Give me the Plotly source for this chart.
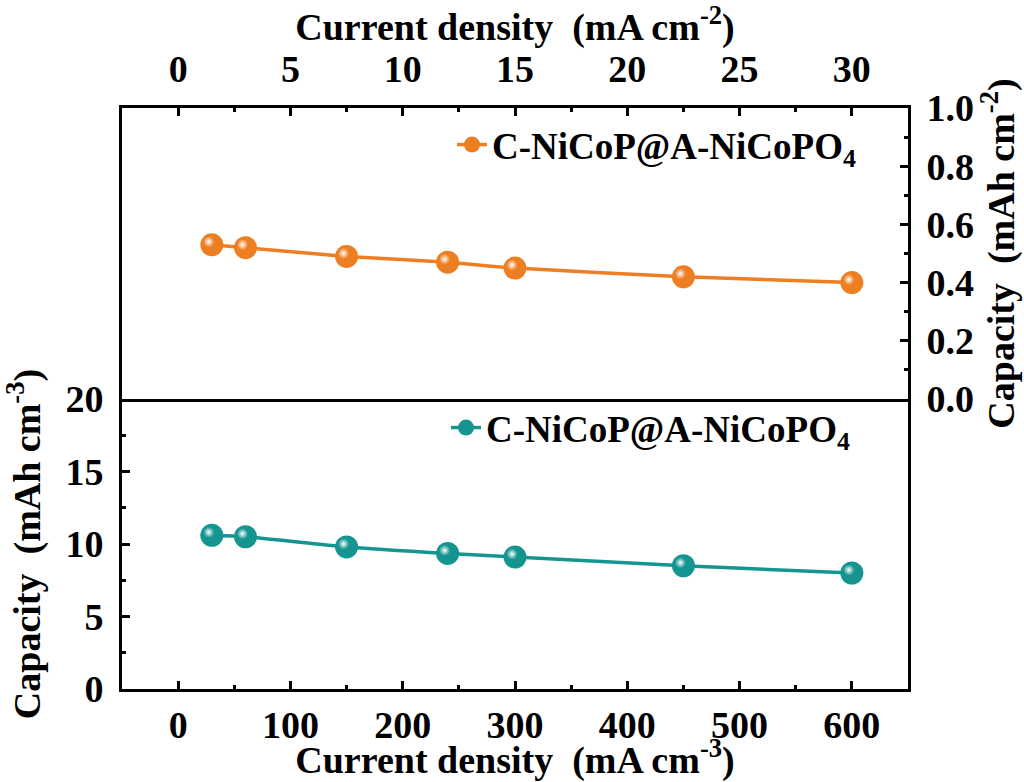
import plotly.graph_objects as go

# Areal (top panel) and volumetric (bottom panel) rate performance
areal_current = [1.5, 3, 7.5, 12, 15, 22.5, 30]            # mA cm-2
areal_capacity = [0.53, 0.52, 0.49, 0.47, 0.45, 0.42, 0.40]  # mAh cm-2

vol_current = [30, 60, 150, 240, 300, 450, 600]              # mA cm-3
vol_capacity = [10.6, 10.5, 9.8, 9.35, 9.1, 8.5, 8.0]        # mAh cm-3

series_name = "<b>C-NiCoP@A-NiCoPO<sub>4</sub></b>"
orange = "#EE7E22"
teal = "#15958F"

FONT = "Liberation Serif"
GAP = "\u2002"  # en space before the unit parentheses
W, H = 1024, 782
# plot frame in pixels
left, right, top, mid, bottom = 122, 908, 108, 399, 689

def px_x(p):
    return p / W

def px_y(p):
    return (H - p) / H

x_dom = [px_x(left), px_x(right)]
y_bot = [px_y(bottom), px_y(mid)]
y_top = [px_y(mid), px_y(top)]
# small offset (up-left) used for the specular highlight on the ball markers
dx, dy = 3 / W, 3 / H
x_dom_hi = [x_dom[0] - dx, x_dom[1] - dx]
y_bot_hi = [y_bot[0] + dy, y_bot[1] + dy]
y_top_hi = [y_top[0] + dy, y_top[1] + dy]

fig = go.Figure()

# top panel: areal capacity
fig.add_trace(go.Scatter(
    x=areal_current, y=areal_capacity, xaxis="x2", yaxis="y2",
    mode="lines+markers", name=series_name, legend="legend",
    line=dict(color=orange, width=3.5, shape="spline", smoothing=0.6),
    marker=dict(size=23, color=orange, line=dict(width=0)),
))
fig.add_trace(go.Scatter(
    x=areal_current, y=areal_capacity, xaxis="x3", yaxis="y3",
    mode="markers", showlegend=False, hoverinfo="skip",
    marker=dict(size=11, color=orange, line=dict(width=0),
                gradient=dict(type="radial", color="white")),
))

# bottom panel: volumetric capacity
fig.add_trace(go.Scatter(
    x=vol_current, y=vol_capacity, xaxis="x", yaxis="y",
    mode="lines+markers", name=series_name, legend="legend2",
    line=dict(color=teal, width=3.5, shape="spline", smoothing=0.6),
    marker=dict(size=23, color=teal, line=dict(width=0)),
))
fig.add_trace(go.Scatter(
    x=vol_current, y=vol_capacity, xaxis="x4", yaxis="y4",
    mode="markers", showlegend=False, hoverinfo="skip",
    marker=dict(size=11, color=teal, line=dict(width=0),
                gradient=dict(type="radial", color="white")),
))

tick_font = dict(family=FONT, size=38, color="black")
title_font = dict(family=FONT, size=38, color="black")
axis_common = dict(
    showline=True, linecolor="black", linewidth=3,
    ticks="inside", ticklen=8, tickwidth=3, tickcolor="black",
    showgrid=False, zeroline=False, tickfont=tick_font,
    tickprefix="<b>", ticksuffix="</b>",
    automargin=False,
)
minor_common = dict(ticks="inside", ticklen=4, tickwidth=3, tickcolor="black")
hidden = dict(visible=False, showgrid=False, zeroline=False, fixedrange=True)

fig.update_layout(
    template="none",
    font=dict(family=FONT, size=36, color="black"),
    width=W, height=H,
    margin=dict(l=0, r=0, t=0, b=0),
    paper_bgcolor="white", plot_bgcolor="rgba(0,0,0,0)",
    xaxis=dict(
        **axis_common, domain=x_dom, anchor="y", range=[-50, 650],
        tick0=0, dtick=100, mirror=False, ticklabelstandoff=0,
        minor=dict(**minor_common, dtick=50, tick0=0),
        title=dict(text=f"<b>Current density{GAP}(mA cm<sup>-3</sup>)</b>", font=title_font, standoff=3),
    ),
    yaxis=dict(
        **axis_common, domain=y_bot, anchor="x", range=[0, 20],
        tick0=0, dtick=5, mirror=True, ticklabelstandoff=8,
        minor=dict(**minor_common, dtick=2.5, tick0=0),
        title=dict(text=f"<b>Capacity{GAP}(mAh cm<sup>-3</sup>)</b>", font=title_font, standoff=14),
    ),
    xaxis2=dict(
        **axis_common, domain=x_dom, anchor="y2", side="top", range=[-2.5, 32.5],
        tick0=0, dtick=5, mirror=True, ticklabelstandoff=8,
        minor=dict(**minor_common, dtick=2.5, tick0=0),
        title=dict(text=f"<b>Current density{GAP}(mA cm<sup>-2</sup>)</b>", font=title_font, standoff=4),
    ),
    yaxis2=dict(
        **axis_common, domain=y_top, anchor="x2", side="right", range=[0, 1.0],
        tick0=0, dtick=0.2, tickformat=".1f", mirror=True, ticklabelstandoff=8,
        minor=dict(**minor_common, dtick=0.1, tick0=0),
        title=dict(text=f"<b>Capacity{GAP}(mAh cm<sup>-2</sup>)</b>", font=title_font, standoff=8),
    ),
    xaxis3=dict(**hidden, domain=x_dom_hi, anchor="y3", range=[-2.5, 32.5]),
    yaxis3=dict(**hidden, domain=y_top_hi, anchor="x3", range=[0, 1.0]),
    xaxis4=dict(**hidden, domain=x_dom_hi, anchor="y4", range=[-50, 650]),
    yaxis4=dict(**hidden, domain=y_bot_hi, anchor="x4", range=[0, 20]),
    legend=dict(
        x=px_x(452), y=px_y(145), xanchor="left", yanchor="middle",
        bgcolor="rgba(0,0,0,0)", borderwidth=0,
        font=dict(family=FONT, size=37, color="black"),
    ),
    legend2=dict(
        x=px_x(446), y=px_y(428), xanchor="left", yanchor="middle",
        bgcolor="rgba(0,0,0,0)", borderwidth=0,
        font=dict(family=FONT, size=37, color="black"),
    ),
    showlegend=True,
)

fig.write_html("out.html")
